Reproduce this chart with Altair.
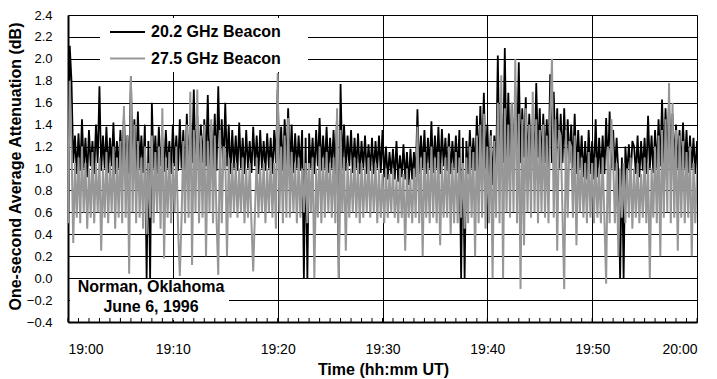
import altair as alt
import pandas as pd

series_names = ["20.2 GHz Beacon", "27.5 GHz Beacon"]
series_colors = ["#000000", "#979797"]
tick_labels = ["19:00", "19:10", "19:20", "19:30", "19:40", "19:50", "20:00"]
y_ticks = [-0.4, -0.2, 0.0, 0.2, 0.4, 0.6, 0.8, 1.0, 1.2, 1.4, 1.6, 1.8, 2.0, 2.2, 2.4]
note_lines = ["Norman, Oklahoma", "June 6, 1996"]
x_title = "Time (hh:mm UT)"
y_title = "One-second Average Attenuation (dB)"
step_seconds = 10

# 20.2 GHz beacon, one row per minute (10 s samples)
beacon_20_rows = [
    [0.50, 2.12, 1.80, 1.05, 1.30, 0.95],
    [1.32, 0.98, 1.45, 1.00, 1.28, 0.92],
    [1.35, 1.02, 1.25, 0.95, 1.40, 1.05],
    [1.75, 0.98, 1.30, 1.00, 1.38, 0.96],
    [1.28, 1.02, 1.42, 0.95, 1.25, 1.00],
    [1.35, 0.98, 1.50, 1.05, 1.30, 0.95],
    [1.84, 1.00, 1.45, 0.92, 1.52, 1.00],
    [1.30, 0.96, 1.40, 0.00, 1.25, 0.00],
    [1.60, 1.00, 1.30, 0.95, 1.38, 1.02],
    [1.28, 0.97, 1.35, 1.00, 1.25, 0.95],
    [1.40, 1.02, 1.30, 0.98, 1.45, 1.00],
    [1.35, 0.85, 1.50, 1.00, 1.42, 1.05],
    [1.72, 1.00, 1.48, 0.98, 1.40, 1.05],
    [1.45, 1.02, 1.67, 0.95, 1.40, 1.00],
    [1.50, 0.98, 1.75, 1.05, 1.45, 1.00],
    [1.60, 1.02, 1.40, 0.95, 1.35, 1.00],
    [1.30, 0.98, 1.42, 1.00, 1.28, 0.95],
    [1.35, 1.00, 1.25, 0.96, 1.38, 1.02],
    [1.30, 0.95, 1.35, 1.00, 1.25, 0.98],
    [1.32, 1.00, 1.28, 0.95, 1.35, 1.05],
    [1.72, 1.00, 1.38, 0.98, 1.45, 1.02],
    [1.55, 1.00, 1.40, 0.96, 1.32, 1.00],
    [1.30, 0.98, 1.35, 0.00, 1.28, 0.00],
    [1.32, 1.00, 1.28, 0.95, 1.35, 1.02],
    [1.46, 0.98, 1.30, 1.00, 1.38, 0.96],
    [1.28, 1.00, 1.35, 0.95, 1.50, 0.00],
    [1.77, 1.00, 1.40, 0.98, 1.30, 1.02],
    [1.35, 0.96, 1.28, 1.00, 1.32, 0.95],
    [1.25, 1.00, 1.30, 0.95, 1.22, 0.98],
    [1.28, 0.95, 1.25, 1.00, 1.30, 0.96],
    [1.35, 0.92, 1.20, 0.90, 1.15, 0.95],
    [1.18, 0.90, 1.25, 0.88, 1.12, 0.92],
    [1.22, 0.90, 1.15, 0.85, 1.18, 0.90],
    [1.15, 0.92, 1.54, 0.95, 1.30, 1.00],
    [1.35, 0.95, 1.28, 1.00, 1.43, 0.96],
    [1.30, 1.00, 1.38, 0.95, 1.36, 1.02],
    [1.28, 0.98, 1.32, 0.95, 1.25, 1.00],
    [1.30, 0.96, 1.35, 0.00, 1.28, 0.00],
    [1.25, 0.95, 1.35, 1.00, 1.28, 0.98],
    [1.48, 1.00, 1.57, 1.05, 1.69, 1.00],
    [1.40, 0.90, 1.35, 0.85, 1.30, 0.95],
    [2.03, 1.00, 1.50, 1.05, 2.10, 1.00],
    [1.69, 1.05, 1.60, 1.00, 1.75, 1.10],
    [1.97, 1.05, 1.55, 1.10, 1.65, 1.00],
    [1.50, 1.05, 1.45, 1.00, 1.78, 1.10],
    [1.55, 1.00, 1.50, 1.05, 1.45, 1.00],
    [1.86, 1.05, 1.70, 1.10, 1.55, 1.00],
    [1.50, 1.05, 1.55, 1.00, 1.45, 1.05],
    [1.40, 1.00, 1.50, 0.95, 1.35, 1.00],
    [1.30, 0.92, 1.25, 0.90, 1.35, 0.95],
    [1.25, 0.90, 1.45, 0.92, 1.28, 0.95],
    [1.30, 0.95, 1.46, 1.00, 1.52, 1.00],
    [1.35, 0.98, 1.28, 0.95, 0.00, 1.10],
    [0.00, 1.20, 0.95, 1.22, 0.92, 1.25],
    [1.20, 0.95, 1.30, 0.92, 1.25, 0.98],
    [1.28, 0.95, 1.48, 1.00, 1.30, 0.96],
    [1.35, 1.00, 1.45, 1.02, 1.63, 1.05],
    [1.55, 1.05, 1.62, 1.00, 1.50, 1.05],
    [1.40, 1.00, 1.35, 0.98, 1.42, 1.00],
    [1.35, 0.96, 1.30, 1.00, 1.28, 0.95],
    [1.25],
]

# 27.5 GHz beacon, one row per minute (10 s samples)
beacon_27_rows = [
    [0.50, 1.80, 1.20, 0.32, 1.05, 0.55],
    [1.10, 0.50, 1.20, 0.60, 1.05, 0.45],
    [1.00, 0.55, 1.15, 0.50, 1.05, 0.60],
    [1.10, 0.25, 1.00, 0.55, 1.15, 0.50],
    [1.05, 0.60, 1.20, 0.45, 1.10, 0.55],
    [1.25, 0.50, 1.57, 0.55, 1.30, 0.04],
    [1.84, 0.60, 1.40, 0.50, 1.25, 0.55],
    [1.10, 0.45, 1.20, 0.40, 1.05, 0.55],
    [1.30, 0.50, 1.15, 0.60, 1.20, 0.45],
    [1.55, 0.18, 1.10, 0.55, 1.15, 0.50],
    [1.05, 0.60, 1.20, 0.45, 0.02, 0.55],
    [1.25, 0.50, 1.40, 0.55, 1.70, 0.12],
    [1.35, 0.60, 1.72, 0.50, 1.30, 0.55],
    [1.40, 0.20, 1.25, 0.60, 1.45, 0.50],
    [1.30, 0.55, 0.03, 1.35, 0.50, 1.20],
    [1.15, 0.20, 1.10, 0.55, 1.05, 0.60],
    [1.05, 0.55, 1.00, 0.60, 1.10, 0.50],
    [1.00, 0.55, 1.05, 0.50, 0.06, 0.60],
    [1.10, 0.55, 1.00, 0.60, 1.05, 0.50],
    [1.00, 0.60, 1.10, 0.55, 1.05, 0.45],
    [1.87, 0.60, 1.20, 0.50, 1.30, 0.55],
    [1.46, 0.55, 1.15, 0.60, 1.05, 0.50],
    [1.10, 0.55, 1.00, 0.60, 1.05, 0.50],
    [1.05, 0.60, 1.10, 0.00, 1.00, 0.55],
    [1.20, 0.50, 1.10, 0.55, 1.15, 0.60],
    [1.05, 0.55, 1.10, 0.50, 1.55, 0.00],
    [1.35, 0.60, 1.10, 0.25, 1.05, 0.55],
    [1.00, 0.60, 1.10, 0.55, 1.05, 0.50],
    [1.05, 0.55, 1.00, 0.60, 1.10, 0.55],
    [1.00, 0.60, 1.05, 0.50, 1.00, 0.55],
    [0.95, 0.50, 1.00, 0.55, 0.95, 0.60],
    [1.00, 0.55, 0.90, 0.50, 1.00, 0.55],
    [0.95, 0.25, 1.00, 0.55, 0.90, 0.50],
    [1.00, 0.55, 1.38, 0.50, 1.10, 0.20],
    [1.15, 0.55, 1.05, 0.50, 1.20, 0.55],
    [1.10, 0.50, 1.15, 0.30, 1.05, 0.55],
    [1.10, 0.55, 1.20, 0.40, 1.05, 0.50],
    [1.15, 0.50, 1.10, 0.55, 1.05, 0.45],
    [1.10, 0.50, 1.20, 0.55, 1.15, 0.20],
    [1.30, 0.50, 1.40, 0.55, 1.50, 0.45],
    [1.20, 0.50, 1.30, 0.00, 1.25, 0.55],
    [1.60, 0.50, 1.85, 0.00, 1.55, 0.60],
    [1.40, 0.55, 1.60, 0.60, 2.00, 0.50],
    [1.50, -0.10, 1.45, 0.30, 1.55, 0.60],
    [1.40, 0.55, 1.70, 0.60, 1.45, 0.50],
    [1.35, 0.60, 1.40, 0.55, 1.30, 0.50],
    [1.50, 2.00, 0.55, 1.45, 0.25, 1.35],
    [1.30, 0.60, -0.10, 1.35, 0.55, 1.25],
    [1.20, 0.55, 1.30, 0.30, 1.15, 0.60],
    [1.10, 0.55, 1.05, 0.50, 1.15, 0.55],
    [1.05, 0.50, 1.10, 0.55, 1.00, 0.50],
    [1.10, 0.55, -0.05, 1.20, 0.50, 1.45],
    [1.10, 0.50, 1.05, 0.20, 1.00, 0.55],
    [1.05, 0.50, 1.00, 0.55, 1.10, 0.45],
    [1.00, 0.55, 1.05, 0.50, 0.95, 0.55],
    [1.10, 0.50, 1.05, 0.00, 1.00, 0.55],
    [1.20, 0.50, 1.30, 0.20, 1.35, 0.55],
    [1.45, 0.60, 1.78, 0.50, 1.60, 0.55],
    [1.35, 0.25, 1.30, 0.55, 1.25, 0.50],
    [1.15, 0.55, 1.20, 0.20, 1.05, 0.50],
    [1.00],
]

beacon_20 = [v for row in beacon_20_rows for v in row]
beacon_27 = [v for row in beacon_27_rows for v in row]

FONT = "Liberation Sans"

df20 = pd.DataFrame({"t": [i * step_seconds for i in range(len(beacon_20))], "v": beacon_20})
df27 = pd.DataFrame({"t": [i * step_seconds for i in range(len(beacon_27))], "v": beacon_27})

x_tick_values = [i * 600 for i in range(len(tick_labels))]
label_expr = "[" + ",".join("'" + s + "'" for s in tick_labels) + "][round(datum.value / 600)]"

x_axis = alt.Axis(
    values=x_tick_values, labelExpr=label_expr, grid=True, gridColor="black",
    gridWidth=1, gridOpacity=1, ticks=False, labelPadding=20, labelFontSize=14,
    labelFont=FONT, labelColor="black", domainColor="black", domainWidth=2,
    labelOverlap=False,
    title=x_title, titleFont=FONT, titleFontSize=16, titleFontWeight="bold",
    titleColor="black", titleX=315, titleY=47, titleAlign="center",
    titleBaseline="middle",
)
y_axis = alt.Axis(
    values=y_ticks, format=".1f", grid=True, gridColor="black", gridWidth=1,
    gridOpacity=1, ticks=False, labelPadding=16, labelFontSize=13,
    labelFont=FONT, labelColor="black", domainColor="black", domainWidth=2,
    labelOverlap=False,
    title=y_title, titleFont=FONT, titleFontSize=16, titleFontWeight="bold",
    titleColor="black", titleAngle=270, titleX=-53, titleY=151,
    titleAlign="center", titleBaseline="middle",
)
x_scale = alt.Scale(domain=[0, 3600], nice=False, zero=False)
y_scale = alt.Scale(domain=[-0.4, 2.4], nice=False, zero=False)


def x_enc():
    return alt.X("t:Q", scale=x_scale, axis=x_axis)


def y_enc():
    return alt.Y("v:Q", scale=y_scale, axis=y_axis)


line20 = alt.Chart(df20).mark_line(color=series_colors[0], strokeWidth=1.8, clip=True).encode(x=x_enc(), y=y_enc())
line27 = alt.Chart(df27).mark_line(color=series_colors[1], strokeWidth=2.0, clip=True).encode(x=x_enc(), y=y_enc())

one = pd.DataFrame({"k": [0]})

legend_box = alt.Chart(one).mark_rect(color="white").encode(
    x=alt.value(32), x2=alt.value(240), y=alt.value(3), y2=alt.value(57))
leg_line1 = alt.Chart(one).mark_rule(color=series_colors[0], strokeWidth=2).encode(
    x=alt.value(42), x2=alt.value(77), y=alt.value(17))
leg_line2 = alt.Chart(one).mark_rule(color=series_colors[1], strokeWidth=2).encode(
    x=alt.value(42), x2=alt.value(77), y=alt.value(43.5))
leg_text1 = alt.Chart(one).mark_text(
    text=series_names[0], font=FONT, fontSize=16, fontWeight="bold", align="left",
    baseline="middle", color="black").encode(x=alt.value(83), y=alt.value(17))
leg_text2 = alt.Chart(one).mark_text(
    text=series_names[1], font=FONT, fontSize=16, fontWeight="bold", align="left",
    baseline="middle", color="black").encode(x=alt.value(83), y=alt.value(43.5))

note_box = alt.Chart(one).mark_rect(color="white").encode(
    x=alt.value(2), x2=alt.value(161), y=alt.value(264), y2=alt.value(305))
note1 = alt.Chart(one).mark_text(
    text=note_lines[0], font=FONT, fontSize=16, fontWeight="bold", align="center",
    baseline="middle", color="black").encode(x=alt.value(83), y=alt.value(272))
note2 = alt.Chart(one).mark_text(
    text=note_lines[1], font=FONT, fontSize=16, fontWeight="bold", align="center",
    baseline="middle", color="black").encode(x=alt.value(83), y=alt.value(292))

minor = alt.Chart(pd.DataFrame({"t": [m * 60 for m in range(61)]})).mark_rule(
    color="black", strokeWidth=1).encode(x=x_enc(), y=alt.value(307), y2=alt.value(303))

chart = alt.layer(
    line20, line27, legend_box, leg_line1, leg_line2, leg_text1, leg_text2,
    note_box, note1, note2, minor,
).properties(
    width=629, height=307,
    autosize=alt.AutoSizeParams(type="none"),
    padding={"left": 60, "top": 7, "right": 11, "bottom": 56},
).configure_view(stroke="black", strokeWidth=2).configure(background="white")

chart.save("out.html", embed_options={"renderer": "svg", "actions": False})
